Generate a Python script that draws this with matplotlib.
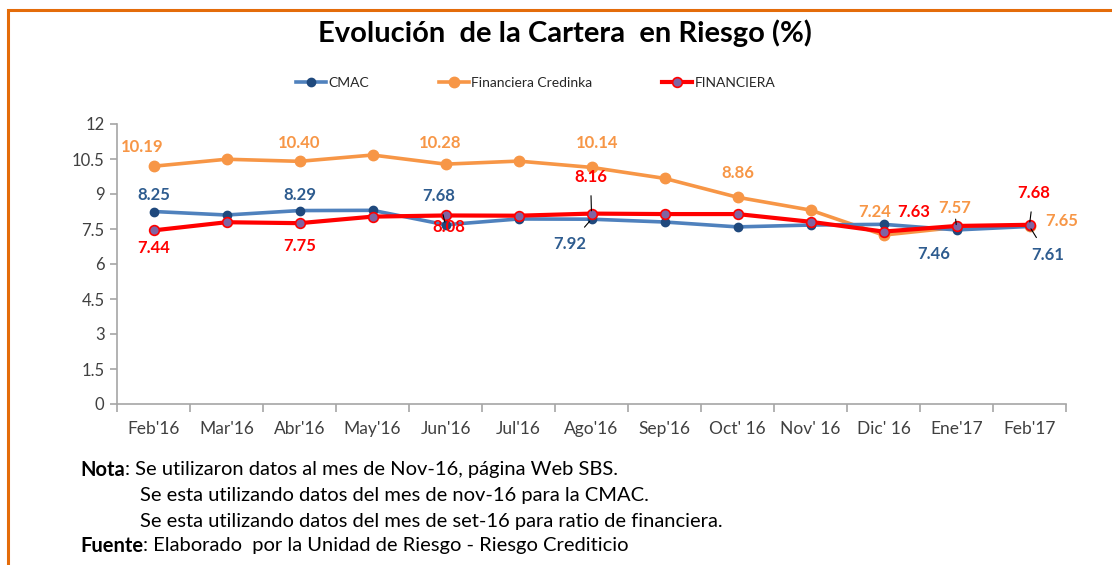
import matplotlib
matplotlib.use("Agg")
import matplotlib.pyplot as plt
from matplotlib.patches import Rectangle
import numpy as np

plt.rcParams['font.family'] = ['Lato', 'DejaVu Sans']

meses = ["Feb'16", "Mar'16", "Abr'16", "May'16", "Jun'16", "Jul'16", "Ago'16",
         "Sep'16", "Oct' 16", "Nov' 16", "Dic' 16", "Ene'17", "Feb'17"]
cmac = [8.25, 8.10, 8.29, 8.30, 7.68, 7.93, 7.92, 7.80, 7.59, 7.67, 7.70, 7.46, 7.61]
credinka = [10.19, 10.49, 10.40, 10.67, 10.28, 10.41, 10.14, 9.67, 8.86, 8.31, 7.24, 7.57, 7.65]
financiera = [7.44, 7.79, 7.75, 8.03, 8.08, 8.07, 8.16, 8.14, 8.14, 7.81, 7.39, 7.63, 7.68]

# etiquetas visibles: (indice, dx, dy, linea guia)
et_cmac = [(0, 0, 16, False), (2, 0, 16, False), (4, -7, 29, True), (6, -22, -25, True),
           (11, -23, -24, False), (12, 18, -29, True)]
et_cred = [(0, -11, 19, False), (2, 0, 18, False), (4, -5, 21, False), (6, 6, 24, False),
           (8, 0, 24, False), (10, -9, 23, False), (11, -2, 19, True), (12, 32, 5, False)]
et_fin = [(0, 0, -18, False), (2, 0, -23, False), (4, 3, -12, False), (6, -1, 37, True),
          (11, -43, 14, False), (12, 4, 32, True)]

c_cmac = '#4F81BD'
c_cmac_m = '#1F497D'
c_cred = '#F79646'
c_fin = '#FF0000'

fig = plt.figure(figsize=(11.12, 5.65), dpi=100)
ax = fig.add_axes([117 / 1112, 1 - 404 / 565, (1066 - 117) / 1112, 280 / 565])

x = np.arange(len(meses))
ax.plot(x, cmac, color=c_cmac, lw=2.6, marker='o', ms=6, mfc=c_cmac_m, mec=c_cmac_m,
        label='CMAC', zorder=3)
ax.plot(x, credinka, color=c_cred, lw=2.6, marker='o', ms=7.5, mfc=c_cred, mec=c_cred,
        label='Financiera Credinka', zorder=2)
ax.plot(x, financiera, color=c_fin, lw=3, marker='o', ms=7, mfc='#8064A2', mec=c_fin,
        mew=1.2, label='FINANCIERA', zorder=4)


def etiquetas(serie, lista, color):
    for i, dx, dy, guia in lista:
        props = dict(arrowstyle='-', color='black', lw=0.8, shrinkA=6, shrinkB=2) if guia else None
        ax.annotate('%.2f' % serie[i], (x[i], serie[i]), xytext=(dx, dy),
                    textcoords='offset pixels', ha='center', va='center',
                    fontsize=12, fontweight='bold', color=color,
                    arrowprops=props, zorder=6)


etiquetas(cmac, et_cmac, '#2E5C8F')
etiquetas(credinka, et_cred, c_cred)
etiquetas(financiera, et_fin, c_fin)

ax.set_xlim(-0.5, len(meses) - 0.5)
ax.set_ylim(0, 12)
ax.set_yticks(np.arange(0, 12.1, 1.5))
ax.set_yticklabels(['0', '1.5', '3', '4.5', '6', '7.5', '9', '10.5', '12'])
ax.set_xticks(x)
ax.set_xticklabels(meses)
ax.set_xticks(np.arange(-0.5, len(meses)), minor=True)
ax.tick_params(axis='x', which='major', length=0, pad=12, labelsize=12.5, colors='#404040')
ax.tick_params(axis='x', which='minor', length=6, color='#A6A6A6', width=1.2)
ax.tick_params(axis='y', length=5, color='#A6A6A6', width=1.2, labelsize=12,
               labelcolor='#404040', pad=4)
for s in ['top', 'right']:
    ax.spines[s].set_visible(False)
for s in ['left', 'bottom']:
    ax.spines[s].set_color('#A6A6A6')
    ax.spines[s].set_linewidth(1.2)

fig.text(565 / 1112, 1 - 33 / 565, 'Evolución  de la Cartera  en Riesgo (%)',
         ha='center', va='center', fontsize=21, fontweight='bold', color='black')

fig.legend(loc='center left', bbox_to_anchor=(289 / 1112, 1 - 83 / 565), ncol=3,
           frameon=False, fontsize=10, handlelength=2.15, handletextpad=0.2,
           columnspacing=5.0, borderpad=0, labelcolor='#262626')

notas = [
    (80, 470, 'Nota:', ': Se utilizaron datos al mes de Nov-16, página Web SBS.'),
    (140, 496, None, 'Se esta utilizando datos del mes de nov-16 para la CMAC.'),
    (140, 521, None, 'Se esta utilizando datos del mes de set-16 para ratio de financiera.'),
    (80, 546, 'Fuente:', ': Elaborado  por la Unidad de Riesgo - Riesgo Crediticio'),
]
for px, py, neg, resto in notas:
    if neg:
        t = fig.text(px / 1112, 1 - py / 565, neg[:-1], ha='left', va='center',
                     fontsize=14.5, fontweight='bold', color='black')
        fig.canvas.draw()
        bb = t.get_window_extent()
        fig.text(bb.x1 / 1112, 1 - py / 565, resto, ha='left', va='center',
                 fontsize=14.5, color='black')
    else:
        fig.text(px / 1112, 1 - py / 565, resto, ha='left', va='center',
                 fontsize=14.5, color='black')

fig.patches.append(Rectangle((8 / 1112, -0.05), 1.2, 1 - 10 / 565 + 0.05,
                             transform=fig.transFigure, fill=False,
                             edgecolor='#E46C0A', lw=2.2))

fig.savefig('out.png', dpi=100)
